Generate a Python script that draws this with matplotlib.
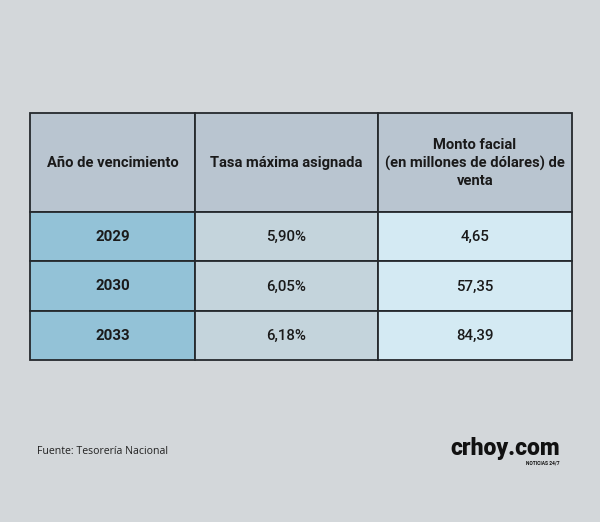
import matplotlib
matplotlib.use("Agg")
import matplotlib.pyplot as plt
from matplotlib.patches import Rectangle

# ── datos ──────────────────────────────────────────────
headers = ["Año de vencimiento", "Tasa máxima asignada",
           "Monto facial\n(en millones de dólares) de\nventa"]
years = ["2029", "2030", "2033"]
rates = ["5,90%", "6,05%", "6,18%"]
amounts = ["4,65", "57,35", "84,39"]
source = "Fuente: Tesorería Nacional"

# ── layout (pixels) ────────────────────────────────────
W, H = 600, 522
col_edges = [30, 195, 378, 572]
row_edges = [113, 212, 261, 311, 360]

BG = "#d3d7da"
HEAD = "#b9c5d0"
COL_COLORS = ["#93c2d7", "#c4d4dc", "#d4eaf3"]
EDGE = "#25292d"

plt.rcParams["font.family"] = ["Roboto", "DejaVu Sans"]

fig = plt.figure(figsize=(W / 100, H / 100), dpi=100, facecolor=BG)
ax = fig.add_axes([0, 0, 1, 1])
ax.set_xlim(0, W)
ax.set_ylim(H, 0)
ax.axis("off")

body = [years, rates, amounts]
for c in range(3):
    x0, x1 = col_edges[c], col_edges[c + 1]
    xm = (x0 + x1) / 2
    # cabecera
    ax.add_patch(Rectangle((x0, row_edges[0]), x1 - x0, row_edges[1] - row_edges[0],
                           facecolor=HEAD, edgecolor=EDGE, lw=1.3))
    ax.text(xm, (row_edges[0] + row_edges[1]) / 2 + 0.5, headers[c], ha="center",
            va="center", fontsize=10.6, fontweight="bold", color="#1a1a1a",
            linespacing=1.35)
    for r in range(3):
        y0, y1 = row_edges[r + 1], row_edges[r + 2]
        ax.add_patch(Rectangle((x0, y0), x1 - x0, y1 - y0,
                               facecolor=COL_COLORS[c], edgecolor=EDGE, lw=1.3))
        ax.text(xm, (y0 + y1) / 2 + 0.5, body[c][r], ha="center", va="center",
                fontsize=10.8, fontweight="bold" if c == 0 else "medium",
                color="#1a1a1a")

ax.text(37, 451, source, ha="left", va="center", fontsize=7.6,
        family=["Open Sans", "DejaVu Sans"], color="#222222")
ax.text(560, 448, "crhoy.com", ha="right", va="center", fontsize=16.5,
        fontweight="black", color="#111111")
ax.text(560, 463, "NOTICIAS 24/7", ha="right", va="center", fontsize=3.5,
        fontweight="bold", color="#111111")

fig.savefig("out.png", dpi=100, facecolor=BG)
